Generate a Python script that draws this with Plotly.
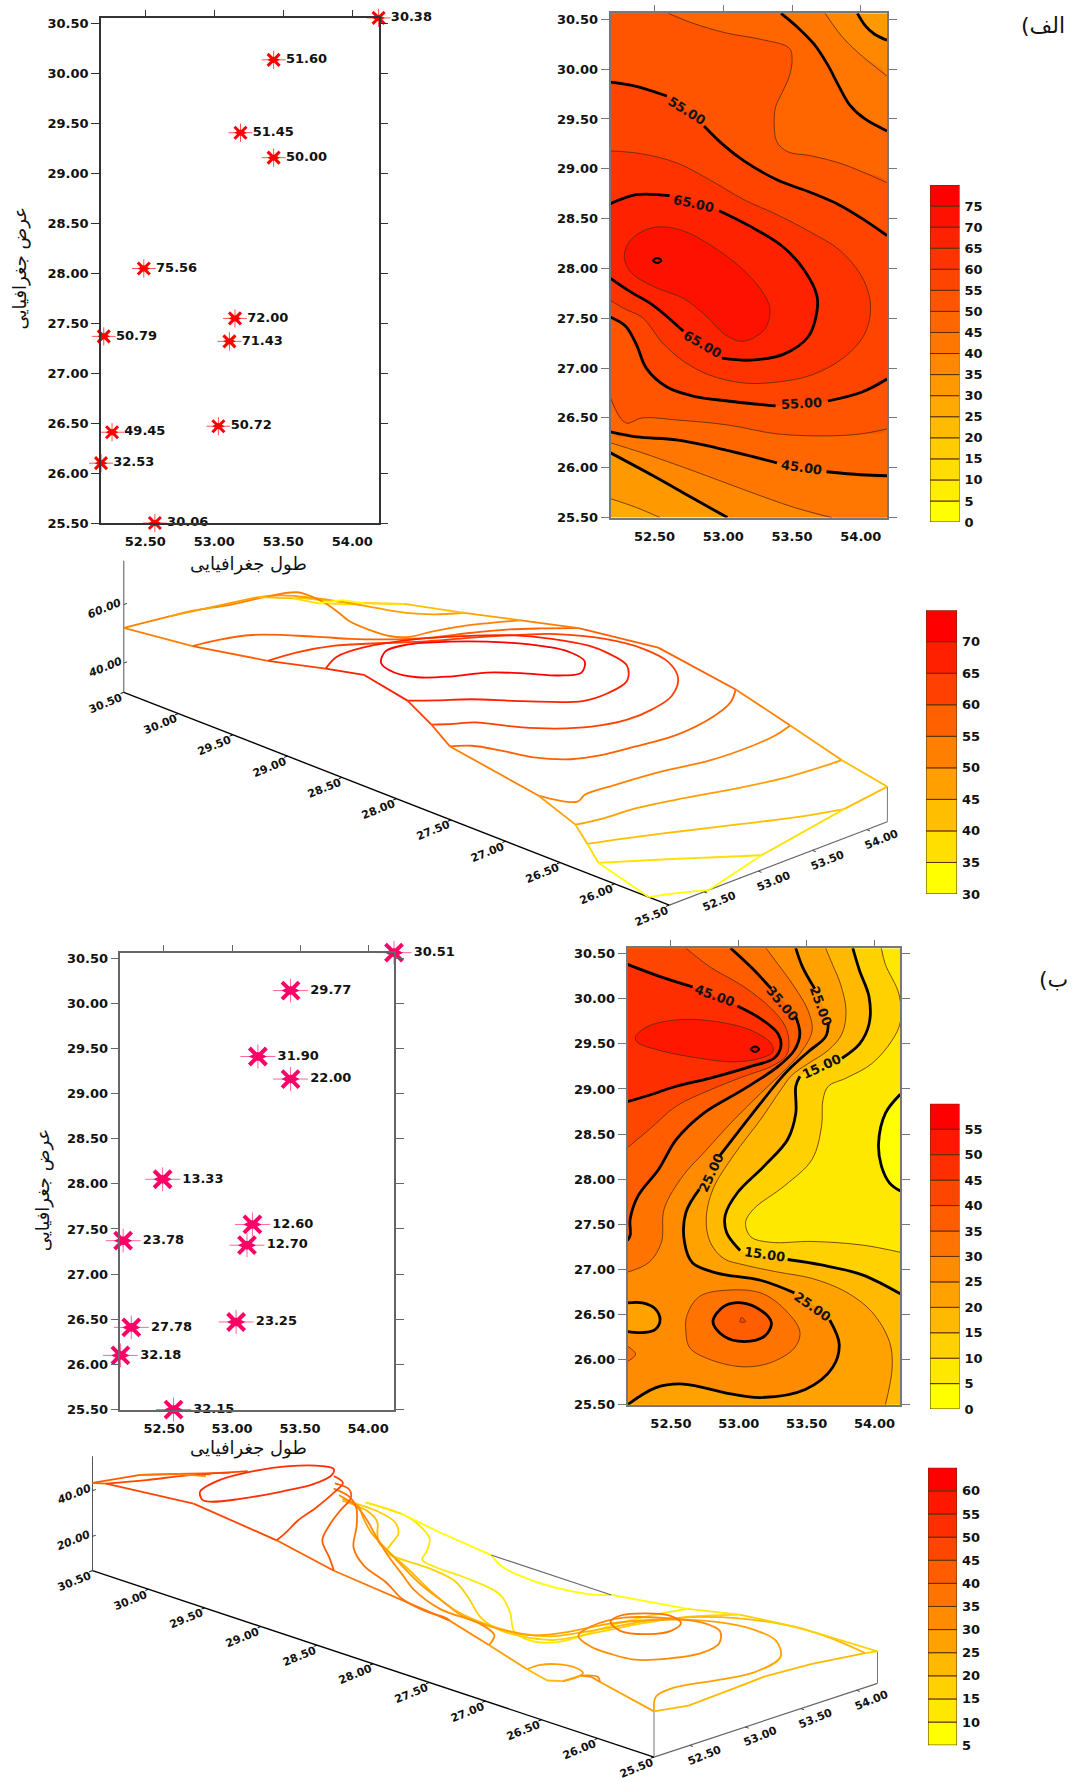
import plotly.graph_objects as go

# ---------- station data ----------
st_lon = [54.19, 53.43, 53.19, 53.43, 52.49, 53.15, 52.20, 53.11, 53.03, 52.26, 52.18, 52.57]
st_lat = [30.56, 30.14, 29.41, 29.16, 28.05, 27.55, 27.37, 27.32, 26.47, 26.41, 26.10, 25.50]
st_a = [30.38, 51.60, 51.45, 50.00, 75.56, 72.00, 50.79, 71.43, 50.72, 49.45, 32.53, 30.06]
st_b = [30.51, 29.77, 31.90, 22.00, 13.33, 12.60, 23.78, 12.70, 23.25, 27.78, 32.18, 32.15]
lon_ticks = [52.5, 53.0, 53.5, 54.0]
lat_ticks = [25.5, 26.0, 26.5, 27.0, 27.5, 28.0, 28.5, 29.0, 29.5, 30.0, 30.5]
XL, XR, YB, YT = 52.18, 54.19, 25.5, 30.56
title_lon = "طول جغرافیایی"
title_lat = "عرض جغرافیایی"

# ---------- contour lines of map A (lon, lat per level) ----------
a30_lon = [52.18, 52.37, 52.54]
a30_lat = [25.69, 25.60, 25.50]
a35t_lon = [53.975, 54.03, 54.10, 54.19]
a35t_lat = [30.56, 30.44, 30.35, 30.29]
a35b_lon = [52.18, 52.49, 52.76, 53.03]
a35b_lat = [26.15, 25.92, 25.71, 25.50]
a40t_lon = [53.74, 53.79, 53.88, 54.01, 54.19]
a40t_lat = [30.56, 30.46, 30.30, 30.13, 29.93]
a40b_lon = [52.18, 52.41, 52.78, 53.15, 53.52, 53.79]
a40b_lat = [26.25, 26.15, 25.97, 25.78, 25.60, 25.50]
a45t_lon = [53.42, 53.54, 53.66, 53.76, 53.84, 53.92, 54.03, 54.19]
a45t_lat = [30.56, 30.42, 30.25, 30.04, 29.83, 29.64, 29.50, 29.38]
a45b_lon = [52.18, 52.37, 52.66, 52.95, 53.39, 53.75, 54.00, 54.19]
a45b_lat = [26.36, 26.31, 26.28, 26.20, 26.05, 25.96, 25.93, 25.92]
a50t_lon = [52.60, 52.78, 53.03, 53.27, 53.48, 53.50, 53.48, 53.43, 53.38, 53.37, 53.39, 53.47, 53.64, 53.84, 54.01, 54.19]
a50t_lat = [30.56, 30.46, 30.36, 30.30, 30.21, 30.09, 29.93, 29.77, 29.62, 29.44, 29.27, 29.17, 29.13, 29.06, 28.97, 28.86]
a50b_lon = [52.18, 52.29, 52.41, 52.66, 53.03, 53.39, 53.76, 54.00, 54.19]
a50b_lat = [26.70, 26.45, 26.50, 26.48, 26.43, 26.34, 26.32, 26.34, 26.39]
a55t_lon = [52.18, 52.36, 52.59, 52.86, 53.00, 53.15, 53.39, 53.64, 53.84, 54.01, 54.19]
a55t_lat = [29.87, 29.83, 29.73, 29.43, 29.24, 29.08, 28.89, 28.76, 28.64, 28.50, 28.33]
a55b_lon = [52.18, 52.29, 52.37, 52.44, 52.59, 52.78, 53.03, 53.38, 53.76, 54.01, 54.19]
a55b_lat = [27.51, 27.42, 27.23, 27.00, 26.81, 26.72, 26.67, 26.62, 26.67, 26.76, 26.89]
a60_lon = [52.18, 52.41, 52.66, 52.90, 53.15, 53.39, 53.64, 53.84, 54.01, 54.07, 54.03, 53.88, 53.64, 53.39, 53.15, 52.90, 52.71, 52.56, 52.41, 52.29, 52.18]
a60_lat = [29.18, 29.15, 29.06, 28.89, 28.69, 28.54, 28.36, 28.19, 27.91, 27.63, 27.35, 27.11, 26.93, 26.86, 26.85, 26.93, 27.07, 27.25, 27.51, 27.59, 27.68]
a65_lon = [52.18, 52.37, 52.61, 52.97, 53.20, 53.44, 53.59, 53.68, 53.68, 53.62, 53.44, 53.20, 52.99, 52.71, 52.49, 52.32, 52.18]
a65_lat = [28.65, 28.74, 28.73, 28.58, 28.42, 28.21, 27.98, 27.73, 27.56, 27.32, 27.14, 27.08, 27.10, 27.37, 27.63, 27.77, 27.90]
a70_lon = [52.28, 52.33, 52.49, 52.68, 52.90, 53.15, 53.30, 53.34, 53.30, 53.15, 53.03, 52.86, 52.71, 52.49, 52.33, 52.28]
a70_lat = [28.12, 28.29, 28.41, 28.39, 28.24, 27.98, 27.73, 27.58, 27.39, 27.27, 27.32, 27.54, 27.70, 27.82, 27.96, 28.12]
a75_lon = [52.49, 52.52, 52.55, 52.52, 52.49]
a75_lat = [28.08, 28.105, 28.08, 28.055, 28.08]

# ---------- contour lines of map B ----------
b05_lon = [54.19, 54.08, 54.03, 54.05, 54.11, 54.19]
b05_lat = [28.94, 28.73, 28.40, 28.15, 27.96, 27.87]
b10_lon = [54.05, 54.08, 54.18, 54.19, 54.13, 53.98, 53.79, 53.66, 53.62, 53.61, 53.54, 53.34, 53.11, 53.05, 53.09, 53.24, 53.54, 53.91, 54.19]
b10_lat = [30.56, 30.38, 30.05, 29.74, 29.54, 29.28, 29.12, 29.03, 28.88, 28.59, 28.22, 27.93, 27.67, 27.52, 27.36, 27.30, 27.31, 27.27, 27.19]
b15_lon = [53.84, 53.89, 53.96, 53.96, 53.89, 53.76, 53.45, 53.42, 53.42, 53.36, 53.19, 52.99, 52.90, 52.91, 53.01, 53.36, 53.61, 53.91, 54.19]
b15_lat = [30.56, 30.31, 30.02, 29.72, 29.50, 29.34, 29.14, 29.03, 28.73, 28.44, 28.15, 27.85, 27.60, 27.41, 27.21, 27.11, 27.05, 26.94, 26.73]
b20_lon = [53.64, 53.69, 53.75, 53.79, 53.76, 53.66, 53.51, 53.39, 53.31, 53.16, 52.96, 52.81, 52.76, 52.79, 52.89, 53.04, 53.29, 53.54, 53.79, 53.98, 54.11, 54.13, 54.08]
b20_lat = [30.56, 30.38, 30.16, 29.87, 29.61, 29.43, 29.28, 29.15, 28.99, 28.66, 28.26, 27.89, 27.56, 27.30, 27.12, 27.05, 26.97, 26.90, 26.75, 26.53, 26.20, 25.91, 25.50]
b25_lon = [53.42, 53.47, 53.56, 53.66, 53.64, 53.51, 53.34, 53.16, 52.86, 52.71, 52.61, 52.60, 52.66, 52.84, 53.16, 53.41, 53.67, 53.74, 53.69, 53.49, 53.16, 52.94, 52.59, 52.39, 52.18]
b25_lat = [30.56, 30.35, 30.11, 29.74, 29.58, 29.41, 29.17, 28.84, 28.26, 27.89, 27.63, 27.30, 27.07, 26.96, 26.88, 26.74, 26.44, 26.17, 25.91, 25.67, 25.58, 25.62, 25.73, 25.69, 25.50]
b25h_lon = [52.18, 52.29, 52.38, 52.42, 52.38, 52.29, 52.18]
b25h_lat = [26.63, 26.63, 26.57, 26.44, 26.33, 26.30, 26.31]
b30_lon = [53.20, 53.29, 53.41, 53.51, 53.54, 53.47, 53.34, 53.16, 52.94, 52.74, 52.59, 52.45, 52.43, 52.34, 52.18]
b30_lat = [30.56, 30.38, 30.13, 29.87, 29.65, 29.43, 29.21, 28.95, 28.62, 28.29, 28.04, 27.67, 27.30, 27.08, 26.97]
b30i_lon = [52.61, 52.62, 52.71, 52.91, 53.16, 53.33, 53.45, 53.41, 53.24, 53.04, 52.79, 52.64, 52.61]
b30i_lat = [26.31, 26.50, 26.70, 26.77, 26.74, 26.57, 26.31, 26.13, 25.97, 25.92, 26.00, 26.13, 26.31]
b30s_lon = [52.18, 52.24, 52.18]
b30s_lat = [26.15, 26.06, 25.98]
b35_lon = [52.94, 53.09, 53.24, 53.42, 53.45, 53.41, 53.29, 53.04, 52.74, 52.54, 52.41, 52.26, 52.20, 52.20, 52.18]
b35_lat = [30.56, 30.35, 30.11, 29.80, 29.61, 29.43, 29.25, 29.00, 28.73, 28.44, 28.11, 27.82, 27.56, 27.38, 27.32]
b35i_lon = [52.81, 52.89, 53.02, 53.16, 53.24, 53.19, 53.04, 52.89, 52.81]
b35i_lat = [26.42, 26.59, 26.63, 26.55, 26.41, 26.26, 26.20, 26.26, 26.42]
b40_lon = [52.61, 52.79, 53.04, 53.24, 53.34, 53.37, 53.35, 53.24, 53.04, 52.79, 52.54, 52.34, 52.18]
b40_lat = [30.56, 30.35, 30.13, 29.89, 29.70, 29.52, 29.37, 29.25, 29.14, 28.99, 28.81, 28.55, 28.35]
b40i_lon = [53.02, 53.05, 53.01, 53.02]
b40i_lat = [26.47, 26.42, 26.42, 26.47]
b45_lon = [52.18, 52.41, 52.66, 52.99, 53.16, 53.29, 53.31, 53.26, 53.09, 52.79, 52.54, 52.34, 52.18]
b45_lat = [30.38, 30.25, 30.13, 29.92, 29.78, 29.61, 29.47, 29.34, 29.25, 29.12, 29.03, 28.93, 28.86]
b50_lon = [52.24, 52.34, 52.59, 52.86, 53.09, 53.24, 53.25, 53.16, 52.96, 52.71, 52.41, 52.25, 52.24]
b50_lat = [29.58, 29.70, 29.77, 29.74, 29.65, 29.50, 29.41, 29.34, 29.30, 29.34, 29.43, 29.52, 29.58]
b55_lon = [53.09, 53.12, 53.15, 53.12, 53.09]
b55_lat = [29.44, 29.47, 29.44, 29.41, 29.44]

# ---------- surface edges (level along the border, read at the contour ends) ----------
ea_back_lon = [52.18, 52.60, 53.42, 53.74, 53.975, 54.19]
ea_back_z = [52, 50, 45, 40, 35, 33]
ea_left_lat = [30.56, 29.87, 29.18, 28.65, 28.30, 27.90, 27.68, 27.51, 26.70, 26.36, 26.25, 26.15, 25.69]
ea_left_z = [52, 55, 60, 65, 68, 65, 60, 55, 50, 45, 40, 35, 30]
ea_right_lat = [30.56, 30.29, 29.93, 29.38, 28.86, 28.33, 27.60, 26.89, 26.39, 25.92, 25.50]
ea_right_z = [33, 35, 40, 45, 50, 55, 59, 55, 50, 45, 42]
ea_front_lon = [52.54, 53.03, 53.79, 54.19]
ea_front_z = [30, 35, 40, 42]
eb_back_lon = [52.18, 52.61, 52.94, 53.20]
eb_back_z = [43.4, 40, 35, 30]
eb_left_lat = [30.56, 30.38, 29.60, 28.86, 28.35, 27.32, 26.97, 26.63, 26.45, 26.31, 26.15, 26.06, 25.98, 25.50]
eb_left_z = [43.4, 45, 49, 45, 40, 35, 30, 25, 23, 25, 30, 31, 30, 25]
eb_right_lat = [30.05, 29.74, 29.40, 28.94, 27.87, 27.19, 26.73, 26.20, 25.50]
eb_right_z = [10, 10, 7.5, 5, 5, 10, 15, 18, 19]
eb_front_lon = [52.18, 52.49, 52.90, 53.17, 53.60, 54.08, 54.19]
eb_front_z = [25, 22.5, 23.5, 24.3, 23, 20, 19]

W, H = 1072, 1782
TICKFONT = dict(family="DejaVu Sans", size=13, color="#111", weight=700)
SMALLFONT = dict(family="DejaVu Sans", size=11, color="#111", weight=700)
ARFONT = dict(family="DejaVu Sans", size=18, color="#111")
THICK = 2.8


def band(i, n):
    return f"rgb(255,{round(255 * (1 - i / (n - 1)))},0)"


fig = go.Figure()
ax = {}
anns = []


def dom(L, R, T, B):
    return [L / W, R / W], [1 - B / H, 1 - T / H]


def panel(n, top, L, R, T, B, yt, color):
    dx, dy = dom(L, R, T, B)
    ax[f"xaxis{n}"] = dict(domain=dx, range=[XL, XR], tickvals=lon_ticks, ticktext=[f"{v:.2f}" for v in lon_ticks],
                           anchor=f"y{n}", showgrid=False, zeroline=False, showline=True, linecolor=color, linewidth=1.5,
                           mirror=True, ticks="", tickfont=TICKFONT, ticklabelstandoff=6)
    ax[f"yaxis{n}"] = dict(domain=dy, range=[YB, yt], tickvals=lat_ticks, ticktext=[f"{v:.2f}" for v in lat_ticks],
                           anchor=f"x{n}", showgrid=False, zeroline=False, showline=True, linecolor=color, linewidth=1.5,
                           mirror="ticks", ticks="outside", ticklen=8, tickcolor=color, tickfont=TICKFONT)
    ax[f"xaxis{top}"] = dict(overlaying=f"x{n}", side="top", anchor=f"y{n}", range=[XL, XR], tickvals=lon_ticks,
                             showticklabels=False, ticks="outside", ticklen=7, tickcolor=color, showgrid=False,
                             zeroline=False, showline=False, domain=dx)
    fig.add_trace(go.Scatter(x=[lon_ticks[0]], y=[lat_ticks[0]], xaxis=f"x{top}", yaxis=f"y{n}", mode="markers",
                             marker=dict(opacity=0), hoverinfo="skip", showlegend=False))


def scatter_panel(n, vals, ew, ns, xs, xw, ds, textpad, body, thin):
    xa, ya = f"x{n}", f"y{n}"
    for sym, size in [("line-ew-open", ew), ("line-ns-open", ns)]:
        fig.add_trace(go.Scatter(x=st_lon, y=st_lat, xaxis=xa, yaxis=ya, mode="markers", cliponaxis=False,
                                 marker=dict(symbol=sym, size=size, color=thin, line=dict(color=thin, width=1)),
                                 hoverinfo="skip", showlegend=False))
    fig.add_trace(go.Scatter(x=st_lon, y=st_lat, xaxis=xa, yaxis=ya, mode="markers", cliponaxis=False,
                             marker=dict(symbol="diamond-wide", size=ds, color=body, line=dict(width=0)),
                             hoverinfo="skip", showlegend=False))
    fig.add_trace(go.Scatter(x=st_lon, y=st_lat, xaxis=xa, yaxis=ya, mode="markers", cliponaxis=False,
                             marker=dict(symbol="x-thin-open", size=xs, color=body, line=dict(color=body, width=xw)),
                             hoverinfo="skip", showlegend=False))
    fig.add_trace(go.Scatter(x=st_lon, y=st_lat, xaxis=xa, yaxis=ya, mode="markers+text", cliponaxis=False,
                             marker=dict(size=textpad, opacity=0),
                             text=[f"{v:.2f}" for v in vals], textposition="middle right", textfont=TICKFONT,
                             hoverinfo="skip", showlegend=False))


def fill(n, lon, lat, color, shape="spline"):
    fig.add_trace(go.Scatter(x=lon, y=lat, xaxis=f"x{n}", yaxis=f"y{n}", mode="lines", fill="toself", fillcolor=color,
                             line=dict(width=0, shape=shape, simplify=False, smoothing=1), hoverinfo="skip", showlegend=False))


def closed(lon, lat, clon=(), clat=()):
    """Polygon: a contour line followed by frame corners (points doubled to keep the corners sharp)."""
    xs = [lon[0]] + list(lon) + [lon[-1]]
    ys = [lat[0]] + list(lat) + [lat[-1]]
    for a, b in zip(clon, clat):
        xs += [a, a]
        ys += [b, b]
    return xs + [lon[0]], ys + [lat[0]]


def stroke(n, lon, lat, width, color, breaks=()):
    xs, ys = [], []
    for i, (a, b) in enumerate(zip(lon, lat)):
        xs.append(a)
        ys.append(b)
        if i in breaks:
            xs.append(None)
            ys.append(None)
    fig.add_trace(go.Scatter(x=xs, y=ys, xaxis=f"x{n}", yaxis=f"y{n}", mode="lines",
                             line=dict(width=width, color=color, shape="spline", simplify=False, smoothing=1),
                             hoverinfo="skip", showlegend=False))


def clabel(n, lon, lat, text, angle):
    anns.append(dict(x=lon, y=lat, xref=f"x{n}", yref=f"y{n}", text=text, showarrow=False, textangle=angle, font=TICKFONT))


def colorbar(n, levels_from, count, L, R, T, B, ticks):
    dx, dy = dom(L, R, T, B)
    fig.add_trace(go.Bar(x=[0] * count, y=[5] * count, base=[levels_from + 5 * i for i in range(count)], width=1,
                         xaxis=f"x{n}", yaxis=f"y{n}",
                         marker=dict(color=[band(i, count) for i in range(count)], line=dict(color="#5a3000", width=1)),
                         hoverinfo="skip", showlegend=False))
    ax[f"xaxis{n}"] = dict(domain=dx, range=[-0.5, 0.5], visible=False, anchor=f"y{n}")
    ax[f"yaxis{n}"] = dict(domain=dy, range=[levels_from, levels_from + 5 * count], side="right", anchor=f"x{n}",
                           tickvals=ticks, ticks="", showgrid=False, zeroline=False, showline=False,
                           tickfont=TICKFONT, ticklabelstandoff=4)


def ar(x, y, text, angle=0, size=18):
    anns.append(dict(x=x / W, y=1 - y / H, xref="paper", yref="paper", xanchor="center", yanchor="middle", text=text,
                     showarrow=False, textangle=angle, font=dict(ARFONT, size=size)))


# --- scatter panels ---
panel(1, 11, 101, 378.6, 16, 524, YT, "#333")
scatter_panel(1, st_a, 17, 13, 12, 3, 9, 18, "#FF0000", "#FF5050")
ar(248, 565, title_lon)
ar(20, 268, title_lat, -90)

panel(5, 15, 120.4, 394, 956, 1415.5, YT, "#666")
scatter_panel(5, st_b, 25, 17, 17, 4, 13, 30, "#FF0066", "#FF66A0")
ar(248, 1454, title_lon)
ar(43, 1195, title_lat, -90)

# --- map A ---
N = 16
C = lambda lo: band(lo // 5, N)
panel(2, 12, 610.5, 887, 11.4, 518.5, YT, "#777")
fill(2, [XL, XR, XR, XL, XL], [YB, YB, YT, YT, YB], C(30), "linear")
x, y = closed(a30_lon, a30_lat, [XL], [YB])
fill(2, x, y, C(25))
# region >= 35 : outline runs along both low-value lines
x = a35t_lon + [XR, XR] + a35b_lon[::-1] + [XL, XL, XL, XL, a35t_lon[0]]
y = a35t_lat + [YB, YB] + a35b_lat[::-1] + [a35b_lat[0], YT, YT, YT, a35t_lat[0]]
fill(2, x, y, C(35))
x = a40t_lon + [XR, XR] + a40b_lon[::-1] + [XL, XL, XL, XL, a40t_lon[0]]
y = a40t_lat + [YB, YB] + a40b_lat[::-1] + [a40b_lat[0], YT, YT, YT, a40t_lat[0]]
fill(2, x, y, C(40))
x = a45t_lon + a45b_lon[::-1] + [XL, XL, XL, a45t_lon[0]]
y = a45t_lat + a45b_lat[::-1] + [YT, YT, YT, a45t_lat[0]]
fill(2, x, y, C(45))
x = a50t_lon + a50b_lon[::-1] + [XL, XL, XL, a50t_lon[0]]
y = a50t_lat + a50b_lat[::-1] + [YT, YT, YT, a50t_lat[0]]
fill(2, x, y, C(50))
x = a55t_lon + a55b_lon[::-1] + a55t_lon[:1]
y = a55t_lat + a55b_lat[::-1] + a55t_lat[:1]
fill(2, x, y, C(55))
fill(2, *closed(a60_lon, a60_lat), C(60))
fill(2, *closed(a65_lon, a65_lat), C(65))
fill(2, a70_lon, a70_lat, C(70))
fill(2, a75_lon, a75_lat, C(75))
for lo, la in [(a30_lon, a30_lat), (a40t_lon, a40t_lat), (a40b_lon, a40b_lat), (a50t_lon, a50t_lat), (a50b_lon, a50b_lat),
               (a60_lon, a60_lat), (a70_lon, a70_lat)]:
    stroke(2, lo, la, 0.8, "#5a2a00")
stroke(2, a35t_lon, a35t_lat, THICK, "#000")
stroke(2, a35b_lon, a35b_lat, THICK, "#000")
stroke(2, a45t_lon, a45t_lat, THICK, "#000")
stroke(2, a45b_lon, a45b_lat, THICK, "#000", [4])
stroke(2, a55t_lon, a55t_lat, THICK, "#000", [2])
stroke(2, a55b_lon, a55b_lat, THICK, "#000", [7])
stroke(2, a65_lon, a65_lat, THICK, "#000", [2, 12])
stroke(2, a75_lon, a75_lat, 2, "#000")
clabel(2, 52.73, 29.58, "55.00", 32)
clabel(2, 52.78, 28.65, "65.00", 12)
clabel(2, 52.85, 27.24, "65.00", 30)
clabel(2, 53.57, 26.64, "55.00", -3)
clabel(2, 53.57, 26.00, "45.00", 8)
colorbar(3, 0, 16, 930, 959.5, 184, 523, list(range(0, 80, 5)))

# --- map B ---
N2 = 12
D = lambda lo: band(lo // 5, N2)
panel(6, 16, 627.5, 900.3, 951.5, 1410.7, YT, "#777")
fill(6, [XL, XR, XR, XL, XL], [YB, YB, YT, YT, YB], D(5), "linear")
fill(6, *closed(b05_lon, b05_lat), D(0))
fill(6, *closed(b10_lon, b10_lat, [XR, XL, XL], [YB, YB, YT]), D(10))
fill(6, *closed(b15_lon, b15_lat, [XR, XL, XL], [YB, YB, YT]), D(15))
fill(6, *closed(b20_lon, b20_lat, [XL, XL], [YB, YT]), D(20))
fill(6, *closed(b25_lon, b25_lat, [XL], [YT]), D(25))
fill(6, *closed(b25h_lon, b25h_lat), D(20))
fill(6, *closed(b30_lon, b30_lat, [XL], [YT]), D(30))
fill(6, b30i_lon, b30i_lat, D(30))
fill(6, *closed(b30s_lon, b30s_lat), D(30))
fill(6, *closed(b35_lon, b35_lat, [XL], [YT]), D(35))
fill(6, b35i_lon, b35i_lat, D(35))
fill(6, *closed(b40_lon, b40_lat, [XL], [YT]), D(40))
fill(6, b40i_lon, b40i_lat, D(40))
fill(6, *closed(b45_lon, b45_lat), D(45))
fill(6, b50_lon, b50_lat, D(50))
fill(6, b55_lon, b55_lat, D(55))
for lo, la in [(b10_lon, b10_lat), (b20_lon, b20_lat), (b30_lon, b30_lat), (b30i_lon, b30i_lat), (b30s_lon, b30s_lat),
               (b40_lon, b40_lat), (b40i_lon, b40i_lat), (b50_lon, b50_lat)]:
    stroke(6, lo, la, 0.8, "#5a2a00")
stroke(6, b05_lon, b05_lat, THICK, "#000")
stroke(6, b15_lon, b15_lat, THICK, "#000", [5, 14])
stroke(6, b25_lon, b25_lat, THICK, "#000", [2, 8, 15])
stroke(6, b25h_lon, b25h_lat, THICK, "#000")
stroke(6, b35_lon, b35_lat, THICK, "#000", [2])
stroke(6, b35i_lon, b35i_lat, THICK, "#000")
stroke(6, b45_lon, b45_lat, THICK, "#000", [2])
stroke(6, b55_lon, b55_lat, 2, "#000")
clabel(6, 52.82, 30.03, "45.00", 20)
clabel(6, 53.32, 29.95, "35.00", 50)
clabel(6, 53.60, 29.92, "25.00", 70)
clabel(6, 53.61, 29.25, "15.00", -25)
clabel(6, 52.80, 28.07, "25.00", -65)
clabel(6, 53.19, 27.16, "15.00", 8)
clabel(6, 53.54, 26.59, "25.00", 35)
colorbar(7, 0, 12, 930, 959.5, 1108, 1415, list(range(0, 60, 5)))

# --- projected surfaces on one shared view axis ---
ax["xaxis9"] = dict(domain=[0, 1], range=[0, W], visible=False, anchor="y9")
ax["yaxis9"] = dict(domain=[0, 1], range=[H, 0], visible=False, anchor="x9")


def projector(x0, a, b, y0, c, d, e, z0):
    def f(lon, lat, z):
        # the block view ends at the last latitude tick
        dl, dp = lon - XL, min(lat, lat_ticks[-1]) - YB
        return x0 + a * dl - b * dp, y0 - c * dl - d * dp - e * (z - z0)
    return f


def line3(P, lon, lat, z, color, width=1.8, shape="spline"):
    pts = [P(a, b, c) for a, b, c in zip(lon, lat, z)]
    fig.add_trace(go.Scatter(x=[p[0] for p in pts], y=[p[1] for p in pts], xaxis="x9", yaxis="y9", mode="lines",
                             line=dict(color=color, width=width, shape=shape, simplify=False), hoverinfo="skip", showlegend=False))


def level_line(P, lon, lat, L, color):
    line3(P, lon, lat, [L] * len(lon), color)


def edge(P, lon, lat, z, colorfn):
    for i in range(len(z) - 1):
        line3(P, lon[i:i + 2], lat[i:i + 2], z[i:i + 2], colorfn(min(z[i], z[i + 1])), shape="linear")


def box_axes(P, z0, ztop, zticks, right_z, front_z=None):
    line3(P, [XL, XL], [YT, YB], [z0, z0], "#000", 1.4, "linear")
    line3(P, [XL, XR], [YB, YB], [z0, z0], "#666", 1.2, "linear")
    line3(P, [XL, XL], [YT, YT], [z0, ztop], "#555", 1, "linear")
    line3(P, [XR, XR], [YB, YB], [z0, right_z], "#777", 1, "linear")
    if front_z:
        line3(P, [XL, XL], [YB, YB], [z0, front_z], "#777", 1, "linear")
    for t in lat_ticks:
        line3(P, [XL, XL - 0.03], [t, t], [z0, z0], "#000", 1, "linear")
        px, py = P(XL, t, z0)
        anns.append(dict(x=px - 18, y=py + 11, xref="x9", yref="y9", text=f"{t:.2f}", showarrow=False, textangle=-22, font=SMALLFONT))
    for t in lon_ticks:
        line3(P, [t, t], [YB, YB - 0.03], [z0, z0], "#444", 1, "linear")
        px, py = P(t, YB, z0)
        anns.append(dict(x=px + 15, y=py + 10, xref="x9", yref="y9", text=f"{t:.2f}", showarrow=False, textangle=-22, font=SMALLFONT))
    for t in zticks:
        line3(P, [XL, XL + 0.03], [YT, YT], [t, t], "#444", 1, "linear")
        px, py = P(XL, YT, t)
        anns.append(dict(x=px - 19, y=py + 4, xref="x9", yref="y9", text=f"<i>{t:.2f}</i>", showarrow=False, textangle=-22, font=SMALLFONT))


PA = projector(669.3, 108.5, 109.1, 908.2, 41.7, 42.8, 2.94, 30)
ca = lambda L: band(min(max(int(L // 5) - 6, 0), 8), 9)
box_axes(PA, 30, 75, [40, 60], 42)
for L, lo, la in [(30, a30_lon, a30_lat), (35, a35t_lon, a35t_lat), (35, a35b_lon, a35b_lat), (40, a40t_lon, a40t_lat),
                  (40, a40b_lon, a40b_lat), (45, a45t_lon, a45t_lat), (45, a45b_lon, a45b_lat), (50, a50t_lon, a50t_lat),
                  (50, a50b_lon, a50b_lat), (55, a55t_lon, a55t_lat), (55, a55b_lon, a55b_lat), (60, a60_lon, a60_lat),
                  (65, a65_lon, a65_lat), (70, a70_lon, a70_lat)]:
    level_line(PA, lo, la, L, ca(L))
edge(PA, ea_back_lon, [YT] * len(ea_back_lon), ea_back_z, ca)
edge(PA, [XL] * len(ea_left_lat), ea_left_lat, ea_left_z, ca)
edge(PA, [XR] * len(ea_right_lat), ea_right_lat, ea_right_z, ca)
edge(PA, ea_front_lon, [YB] * len(ea_front_lon), ea_front_z, ca)
colorbar(4, 30, 9, 926, 957, 611.6, 897, list(range(30, 75, 5)))

PB = projector(654, 111.2, 112.3, 1765, 36.9, 37.5, 2.3, 5)
cb = lambda L: band(min(max(int(L // 5) - 1, 0), 11), 12)
box_axes(PB, 5, 55, [20, 40], 19, 25)
for L, lo, la, s, t in [(5, b05_lon, b05_lat, 0, None), (10, b10_lon, b10_lat, 2, None), (15, b15_lon, b15_lat, 2, None),
                        (20, b20_lon, b20_lat, 3, None), (25, b25_lon, b25_lat, 3, None), (25, b25h_lon, b25h_lat, 0, None),
                        (30, b30_lon, b30_lat, 4, None), (30, b30i_lon, b30i_lat, 0, None), (30, b30s_lon, b30s_lat, 0, None),
                        (35, b35_lon, b35_lat, 4, None), (35, b35_lon, b35_lat, 0, 2), (35, b35i_lon, b35i_lat, 0, None),
                        (40, b40_lon, b40_lat, 5, None), (40, b40_lon, b40_lat, 0, 3),
                        (45, b45_lon, b45_lat, 6, None), (45, b45_lon, b45_lat, 0, 4), (50, b50_lon, b50_lat, 0, None)]:
    level_line(PB, lo[s:t], la[s:t], L, cb(L))
edge(PB, eb_back_lon, [YT] * len(eb_back_lon), eb_back_z, cb)
edge(PB, [XL] * len(eb_left_lat), eb_left_lat, eb_left_z, cb)
edge(PB, [XR] * 4, eb_right_lat[:4], eb_right_z[:4], cb)
line3(PB, [XR, XR], eb_right_lat[3:5], eb_right_z[3:5], "#666", 1.1, "linear")
edge(PB, [XR] * 5, eb_right_lat[4:], eb_right_z[4:], cb)
edge(PB, eb_front_lon, [YB] * len(eb_front_lon), eb_front_z, cb)
colorbar(8, 5, 12, 928, 957, 1474, 1753, list(range(5, 65, 5)))

ar(1043, 24, "(الف", 0, 22)
ar(1053, 983, "(ب", 0, 22)

fig.update_layout(width=W, height=H, autosize=False, margin=dict(l=0, r=0, t=0, b=0), paper_bgcolor="white",
                  plot_bgcolor="rgba(0,0,0,0)", showlegend=False, annotations=anns, barmode="overlay", **ax)
fig.write_html("out.html", config=dict(displayModeBar=False),
               post_script="document.body.style.margin='0';document.body.style.overflow='hidden';")
